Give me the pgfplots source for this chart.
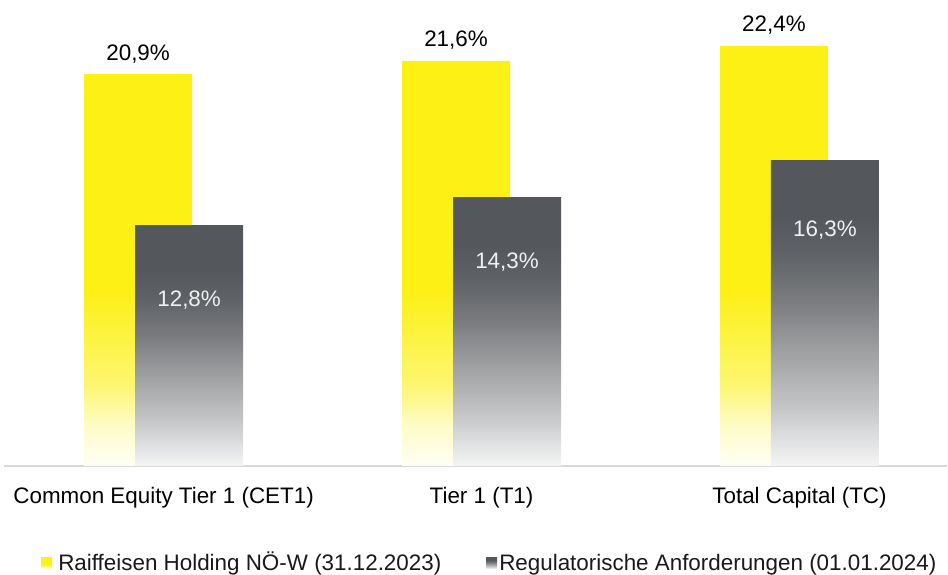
\documentclass[border=0pt]{standalone}
\usepackage{pgfplots}
\pgfplotsset{compat=1.18}
\usepackage{fontspec}
\setmainfont{Liberation Sans}
\definecolor{yel}{HTML}{FCF014}
\definecolor{axisgray}{HTML}{D9D9D9}
\definecolor{gA}{RGB}{245,245,245}
\definecolor{gB}{RGB}{227,228,229}
\definecolor{gC}{RGB}{197,198,200}
\definecolor{gD}{RGB}{160,161,163}
\definecolor{gE}{RGB}{124,126,129}
\definecolor{gF}{RGB}{94,97,101}
\definecolor{gG}{RGB}{84,87,92}
\pgfdeclareverticalshading{yfade}{100bp}{color(0bp)=(yel!4!white); color(25bp)=(yel!4!white); color(30bp)=(yel!25!white); color(34.5bp)=(yel!60!white); color(46bp)=(yel); color(100bp)=(yel)}
\pgfdeclareverticalshading{gfade}{100bp}{color(0bp)=(gA); color(25bp)=(gA); color(28.5bp)=(gB); color(34.5bp)=(gC); color(43.5bp)=(gD); color(51.5bp)=(gE); color(60bp)=(gF); color(66bp)=(gG); color(100bp)=(gG)}
\begin{document}
\begin{tikzpicture}[font=\fontsize{16.8}{20}\selectfont]
\useasboundingbox (0,0) rectangle (711pt,430.5pt);
\begin{axis}[
  at={(3pt,81pt)}, anchor=south west,
  scale only axis, width=707.25pt, height=349.5pt,
  xmin=-0.502, xmax=2.464, ymin=0, ymax=24.853,
  axis y line=none, axis x line*=bottom,
  x axis line style={draw=axisgray, line width=1.5pt},
  xtick={0,1,2},
  xticklabels={Common Equity Tier 1 (CET1), Tier 1 (T1), Total Capital (TC)},
  major tick length=0pt,
  xticklabel style={anchor=base, yshift=-27.75pt, inner sep=0pt, font=\fontsize{16.8}{20}\selectfont, text=black},
  clip=false,
  /pgf/number format/assume math mode=true,
  bar width=81pt,
  nodes near coords={\pgfmathprintnumber[fixed,fixed zerofill,precision=1,use comma]{\pgfplotspointmeta}\%},
]
% Raiffeisen Holding NOE-W (31.12.2023)
\addplot[ybar, bar shift=-19.125pt, draw=none, shade, shading=yfade,
  every node near coord/.style={anchor=base, xshift=-19.125pt, yshift=10.5pt, text=black, font=\fontsize{16.8}{20}\selectfont}]
  coordinates {(0,20.9) (1,21.6) (2,22.4)};
% Regulatorische Anforderungen (01.01.2024)
\addplot[ybar, bar shift=19.125pt, draw=none, shade, shading=gfade,
  every node near coord/.style={anchor=base, xshift=19.125pt, yshift=-60.75pt, text=white!94!black, font=\fontsize{16.8}{20}\selectfont}]
  coordinates {(0,12.8)};
\addplot[ybar, bar shift=19.125pt, draw=none, shade, shading=gfade,
  every node near coord/.style={anchor=base, xshift=19.125pt, yshift=-53.25pt, text=white!94!black, font=\fontsize{16.8}{20}\selectfont}]
  coordinates {(1,14.3)};
\addplot[ybar, bar shift=19.125pt, draw=none, shade, shading=gfade,
  every node near coord/.style={anchor=base, xshift=19.125pt, yshift=-57pt, text=white!94!black, font=\fontsize{16.8}{20}\selectfont}]
  coordinates {(2,16.3)};
\end{axis}
% legend
\shade[shading=yfade] (30.75pt,4.1pt) rectangle (39pt,12.4pt);
\node[anchor=base west, inner sep=0pt, text=black!90] at (43.5pt,3pt) {Raiffeisen Holding NÖ-W (31.12.2023)};
\shade[shading=gfade] (364.5pt,4.1pt) rectangle (372.75pt,12.4pt);
\node[anchor=base west, inner sep=0pt, text=black!90] at (374.25pt,3pt) {Regulatorische Anforderungen (01.01.2024)};
\end{tikzpicture}
\end{document}
